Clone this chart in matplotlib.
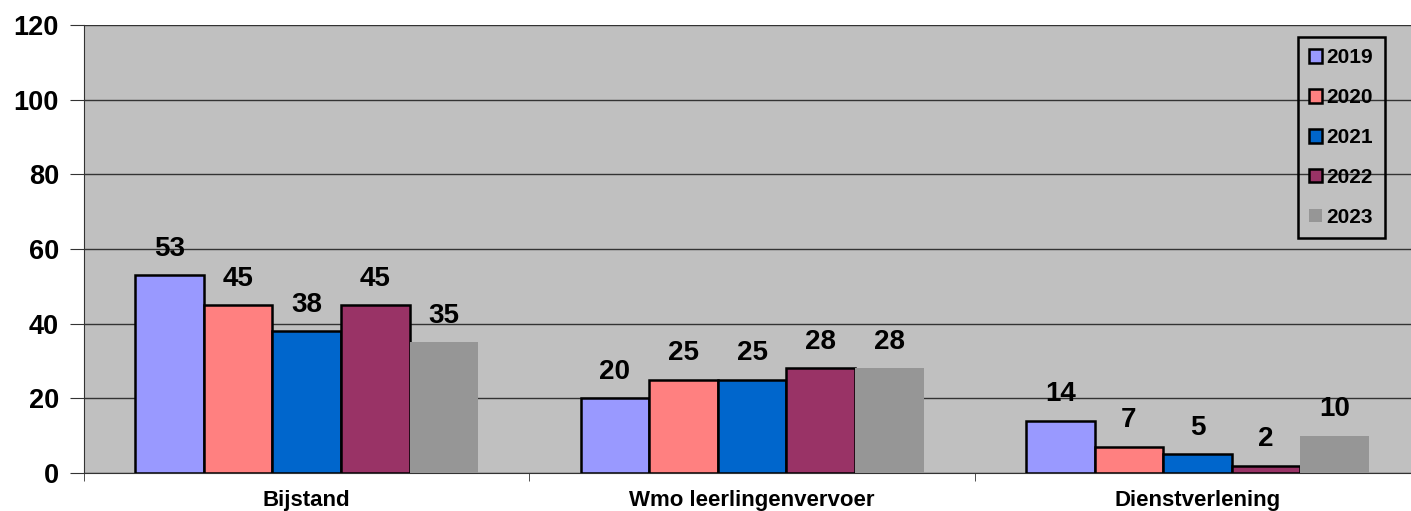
import numpy as np
import matplotlib.pyplot as plt
import matplotlib

matplotlib.rc('font', family=['Liberation Sans', 'DejaVu Sans'], weight='bold')

# data
categories = ['Bijstand', 'Wmo leerlingenvervoer', 'Dienstverlening']
years = ['2019', '2020', '2021', '2022', '2023']
v2019 = [53, 20, 14]
v2020 = [45, 25, 7]
v2021 = [38, 25, 5]
v2022 = [45, 28, 2]
v2023 = [35, 28, 10]
values = [v2019, v2020, v2021, v2022, v2023]
colors = ['#9999FF', '#FF8080', '#0066CC', '#993366', '#969696']
y_ticks = [0, 20, 40, 60, 80, 100, 120]

fig = plt.figure(figsize=(14.11, 5.11), dpi=100)
ax = fig.add_axes([0.0595, 0.0744, 0.947, 0.8766])
ax.set_facecolor('#C0C0C0')

x = np.arange(len(categories))
bw = 0.77 / len(years)
for i, (yr, vals, c) in enumerate(zip(years, values, colors)):
    pos = x - 0.385 + bw * (i + 0.5)
    if yr == '2023':
        bars = ax.bar(pos, vals, bw, color=c, label=yr, zorder=3)
    else:
        bars = ax.bar(pos, vals, bw, color=c, edgecolor='black', linewidth=1.8, label=yr, zorder=3)
    for b, v in zip(bars, vals):
        ax.annotate(str(v), (b.get_x() + b.get_width() / 2, v), xytext=(0, 19),
                    textcoords='offset points', ha='center', va='center',
                    fontsize=20, fontweight='bold')

ax.set_ylim(0, 120)
ax.set_xlim(-0.5, 2.5)
ax.set_yticks(y_ticks)
ax.set_yticklabels([str(t) for t in y_ticks], fontsize=19.5, fontweight='bold')
ax.yaxis.grid(True, color='#333333', linewidth=1, zorder=1)
ax.set_axisbelow(True)

ax.set_xticks(x)
ax.set_xticklabels(categories, fontsize=16, fontweight='bold')
ax.tick_params(axis='x', length=0, pad=12)
ax.set_xticks([-0.5, 0.5, 1.5, 2.5], minor=True)
ax.tick_params(axis='x', which='minor', length=6, color='#333333')
ax.tick_params(axis='y', length=10, color='#333333', pad=8)

for s in ['top', 'right']:
    ax.spines[s].set_visible(False)
ax.spines['left'].set_color('#333333')
ax.spines['bottom'].set_color('#333333')

leg = fig.legend(loc='upper left', bbox_to_anchor=(1298 / 1411, 1 - 37 / 511), fontsize=15,
                 borderaxespad=0, handlelength=0.62, handleheight=0.62, handletextpad=0.2,
                 labelspacing=1.0, borderpad=0.55, fancybox=False,
                 facecolor='none', framealpha=1)
leg.get_frame().set_edgecolor('black')
leg.get_frame().set_linewidth(1.8)
for t in leg.get_texts():
    t.set_fontweight('bold')

plt.savefig('out.png', dpi=100)
